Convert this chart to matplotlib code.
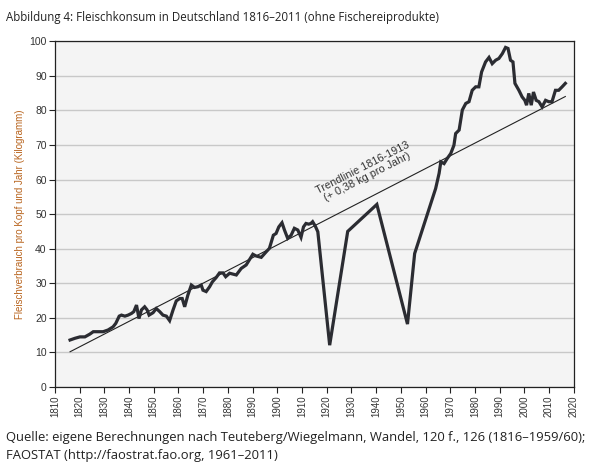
import numpy as np
import matplotlib.pyplot as plt

# Fleischverbrauch pro Kopf (kg)
jahre = [1816.1, 1818.1, 1820.1, 1822.1, 1824.1, 1825.5, 1827.5, 1829.5, 1831.5, 1833.5,
         1834.6, 1836.0, 1836.9, 1838.3, 1839.6, 1841.0, 1841.9, 1843.0, 1844.0, 1845.0,
         1846.3, 1847.3, 1848.1, 1849.7, 1851.0, 1852.4, 1853.7, 1855.1, 1856.4, 1857.8,
         1859.1, 1860.5, 1861.5, 1862.5, 1863.8, 1865.2, 1866.5, 1867.9, 1869.2, 1869.9,
         1871.2, 1872.6, 1873.7, 1875.3, 1876.6, 1878.0, 1879.1, 1880.7, 1883.4, 1885.4,
         1887.4, 1890.1, 1891.4, 1893.5, 1895.5, 1896.8, 1898.4, 1899.5, 1900.6, 1901.9,
         1902.9, 1904.2, 1905.6, 1906.9, 1908.3, 1909.6, 1910.6, 1911.6, 1912.7, 1913.6,
         1914.3, 1915.4, 1916.4, 1921.2, 1928.5, 1940.3, 1952.7, 1955.6, 1964.1, 1965.5,
         1966.2, 1967.5, 1968.8, 1970.2, 1971.5, 1972.2, 1973.6, 1974.9, 1976.3, 1977.6,
         1978.9, 1980.3, 1981.6, 1982.7, 1984.3, 1985.7, 1987.0, 1988.4, 1989.7, 1991.1,
         1992.4, 1993.4, 1994.4, 1995.4, 1996.2, 1997.8, 1999.1, 2000.2, 2000.9, 2001.8,
         2002.8, 2003.7, 2004.8, 2005.9, 2007.2, 2008.6, 2009.9, 2011.2, 2012.6, 2013.9,
         2015.3, 2016.6]
verbrauch = [13.6, 14.1, 14.5, 14.5, 15.3, 16.0, 16.0, 16.0, 16.5, 17.4,
             18.4, 20.5, 20.8, 20.5, 20.8, 21.3, 21.8, 23.7, 19.8, 22.3,
             23.2, 22.3, 20.8, 21.5, 22.7, 21.8, 20.8, 20.5, 19.2, 22.3,
             24.9, 25.6, 25.6, 23.2, 26.6, 29.5, 28.8, 29.0, 29.5, 28.0,
             27.6, 29.0, 30.4, 31.7, 33.0, 33.0, 31.9, 32.9, 32.4, 34.3,
             35.3, 38.4, 37.9, 37.5, 39.1, 40.1, 43.9, 44.4, 46.3, 47.5,
             45.4, 43.0, 43.9, 45.9, 45.4, 43.3, 46.3, 47.3, 47.1, 47.3,
             47.8, 46.5, 44.9, 12.1, 45.0, 52.8, 18.2, 38.6, 57.4, 61.8,
             65.1, 64.6, 66.1, 67.5, 69.9, 73.3, 74.3, 80.1, 82.0, 82.5,
             85.8, 86.8, 86.8, 91.1, 94.0, 95.3, 93.5, 94.5, 95.0, 96.4,
             98.2, 97.9, 94.5, 94.0, 87.8, 85.8, 83.9, 82.9, 81.5, 84.9,
             81.5, 85.3, 82.9, 82.5, 81.0, 82.9, 82.5, 82.5, 85.8, 85.8,
             86.8, 87.8]

# Trendlinie 1816-1913
trend_x = [1816.1, 2016.6]
trend_y = [10.2, 84.0]

fig = plt.figure(figsize=(6.11, 4.68), dpi=100)
ax = fig.add_axes([0.09, 0.173, 0.849, 0.739])
ax.set_facecolor("#f4f4f4")

ax.plot(jahre, verbrauch, color="#2b2c32", linewidth=2.3, solid_joinstyle="miter", zorder=3)
ax.plot(trend_x, trend_y, color="#222222", linewidth=0.8, zorder=2)

ax.text(1935.5, 62.0, "Trendlinie 1816-1913\n(+ 0,38 kg pro Jahr)", rotation=27,
        rotation_mode="anchor", ha="center", va="center", fontsize=7.8,
        family="Liberation Sans", color="#333333", linespacing=1.0, zorder=4)

ax.set_xlim(1810, 2020)
ax.set_ylim(0, 100)
ax.set_xticks(np.arange(1810, 2021, 10))
ax.set_yticks(np.arange(0, 101, 10))
ax.set_xticklabels([str(t) for t in range(1810, 2021, 10)], rotation=90,
                   family="Liberation Sans", fontsize=7, color="#333333")
ax.set_yticklabels([str(t) for t in range(0, 101, 10)],
                   family="Liberation Sans", fontsize=7.5, color="#333333")
ax.tick_params(direction="out", length=4, width=0.8, color="#222222", pad=2)
ax.grid(axis="y", color="#c8c8c8", linewidth=1)
ax.set_axisbelow(True)
for s in ax.spines.values():
    s.set_color("#222222")
    s.set_linewidth(0.9)

ax.set_ylabel("Fleischverbrauch pro Kopf und Jahr (Kilogramm)", family="Liberation Sans",
              fontsize=7, color="#b8641e")
ax.yaxis.set_label_coords(-0.058, 0.5)

fig.text(0.01, 0.962, "Abbildung 4: Fleischkonsum in Deutschland 1816–2011 (ohne Fischereiprodukte)",
         family="Open Sans", fontsize=8.3, color="#222222", va="center")
fig.text(0.01, 0.066, "Quelle: eigene Berechnungen nach Teuteberg/Wiegelmann, Wandel, 120 f., 126 (1816–1959/60);",
         family="Open Sans", fontsize=9.4, color="#222222", va="center")
fig.text(0.01, 0.026, "FAOSTAT (http://faostrat.fao.org, 1961–2011)",
         family="Open Sans", fontsize=9.4, color="#222222", va="center")

fig.savefig("out.png", dpi=100)
